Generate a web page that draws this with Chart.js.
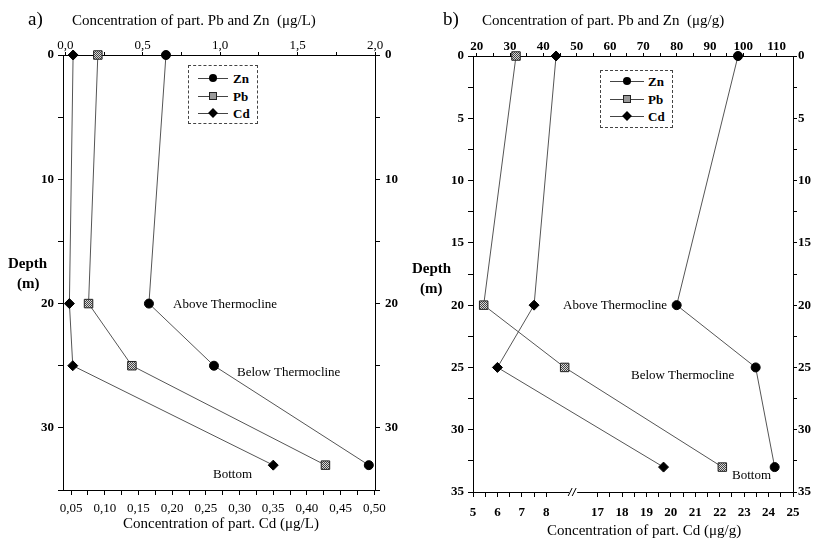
<!DOCTYPE html>
<html>
<head>
<meta charset="utf-8">
<script src="https://cdn.jsdelivr.net/npm/chart.js@4.4.1/dist/chart.umd.min.js"></script>
<style>
  body { margin: 0; background: #fff; }
  #wrap { position: relative; width: 819px; height: 539px; background: #fff; overflow: hidden;
          font-family: 'Liberation Serif', 'DejaVu Serif', serif; color: #000; }
  canvas { position: absolute; top: 0; }
  .txt { position: absolute; white-space: pre; line-height: 1; transform: translateY(-50%);
         font-family: 'Liberation Serif', 'DejaVu Serif', serif; }
  .legend { position: absolute; border: 1px dashed #444; background: #fff; }
  .legend .row { position: absolute; left: 0; right: 0; height: 0; }
  .legend .seg { position: absolute; border-top: 1px solid #444; }
  .legend .mk { position: absolute; box-sizing: border-box; transform: translate(-50%, -50%); }
  .legend .name { position: absolute; font-weight: bold; font-size: 13px; line-height: 1; transform: translateY(-50%); }
</style>
</head>
<body>
<div id="wrap">
  <canvas id="chartA" width="410" height="539" style="left:0"></canvas>
  <canvas id="chartB" width="409" height="539" style="left:410px"></canvas>
  <div id="legendA" class="legend" style="left:188px;top:65px;width:68px;height:57px"></div>
  <div id="legendB" class="legend" style="left:600px;top:70px;width:71px;height:56px"></div>
</div>
<script>
// series names
const seriesNames = ['Zn', 'Pb', 'Cd'];

// panel a: water (µg/L)
const depthA = [0, 20, 25, 33];
const znA = [0.65, 0.54, 0.96, 1.96];
const pbA = [0.21, 0.15, 0.43, 1.68];
const cdA = [0.053, 0.0475, 0.0525, 0.35];

// panel b: particles (µg/g)
const depthB = [0, 20, 25, 33];
const znB = [98.4, 80, 103.7, 109.4];
const pbB = [31.8, 22.1, 46.4, 93.7];
const cdB = [8.4, 7.5, 6.0, 19.7];

// tick labels
const depthLabelsA = [0, 10, 20, 30];
const topLabelsA = [0, 0.5, 1.0, 1.5, 2.0];
const bottomLabelsA = [0.05, 0.10, 0.15, 0.20, 0.25, 0.30, 0.35, 0.40, 0.45, 0.50];
const depthLabelsB = [0, 5, 10, 15, 20, 25, 30, 35];
const topLabelsB = [20, 30, 40, 50, 60, 70, 80, 90, 100, 110];
const bottomLabelsB = [5, 6, 7, 8, 17, 18, 19, 20, 21, 22, 23, 24, 25];

// broken Cd axis in panel b: 8 .. 17 squeezed into a short gap
const CD_SHIFT = 6.9;
const cdToAxis = v => v >= 12 ? v - CD_SHIFT : v;
const cdFromAxis = v => v >= 9.6 ? v + CD_SHIFT : v;

function range(a, b, step) {
  const out = [];
  const n = Math.round((b - a) / step);
  for (let i = 0; i <= n; i++) out.push(+(a + i * step).toFixed(6));
  return out;
}
const isIn = (list, v) => list.some(t => Math.abs(t - v) < 1e-6);

const serif = "'Liberation Serif', 'DejaVu Serif', serif";
const fontB = { family: serif, size: 13, weight: 'bold' };
const fontR = { family: serif, size: 13 };

function makeScale(o) {
  return {
    type: 'linear', position: o.position, min: o.min, max: o.max, reverse: !!o.reverse,
    afterBuildTicks: s => { s.ticks = o.ticks.map(v => ({ value: v })); },
    afterFit: s => {
      if (o.position === 'left' || o.position === 'right') s.width = o.size;
      else s.height = o.size;
      s.paddingLeft = s.paddingRight = s.paddingTop = s.paddingBottom = 0;
    },
    ticks: {
      color: '#000', font: o.font, padding: o.padding, autoSkip: false,
      maxRotation: 0, minRotation: 0, callback: o.label
    },
    grid: { drawOnChartArea: false, color: '#000', tickLength: o.tickLength || 5 },
    border: { color: '#000' }
  };
}

// grey checker fill for the Pb squares
const pat = document.createElement('canvas');
pat.width = 2; pat.height = 2;
const pc = pat.getContext('2d');
pc.fillStyle = '#d8d8d8'; pc.fillRect(0, 0, 2, 2);
pc.fillStyle = '#444'; pc.fillRect(0, 0, 1, 1); pc.fillRect(1, 1, 1, 1);
const pbFill = pc.createPattern(pat, 'repeat');

const styles = {
  Zn: { pointStyle: 'circle', pointRadius: 4.5, pointBackgroundColor: '#000', pointBorderColor: '#000', pointBorderWidth: 1 },
  Pb: { pointStyle: 'rect', pointRadius: 6, pointBackgroundColor: pbFill, pointBorderColor: '#222', pointBorderWidth: 1 },
  Cd: { pointStyle: 'rectRot', pointRadius: 5, pointBackgroundColor: '#000', pointBorderColor: '#000', pointBorderWidth: 1 }
};

function series(name, xs, depths, xAxisID) {
  return Object.assign({
    label: name, xAxisID, yAxisID: 'y', showLine: true,
    data: depths.map((d, i) => ({ x: xs[i], y: d })),
    borderColor: '#555', borderWidth: 1, fill: false, tension: 0, clip: false
  }, styles[name]);
}

const baseOptions = {
  responsive: false, animation: false, layout: { padding: 0 },
  plugins: { legend: { display: false }, tooltip: { enabled: false } }
};

// ---- panel a ----
new Chart(document.getElementById('chartA'), {
  type: 'scatter',
  data: {
    datasets: [
      series('Zn', znA, depthA, 'xTop'),
      series('Pb', pbA, depthA, 'xTop'),
      series('Cd', cdA, depthA, 'xBot')
    ]
  },
  options: Object.assign({}, baseOptions, {
    scales: {
      y: makeScale({ position: 'left', min: 0, max: 35, reverse: true, ticks: range(0, 35, 5),
        label: v => isIn(depthLabelsA, v) ? String(v) : '', size: 63, padding: 4, font: fontB }),
      yR: makeScale({ position: 'right', min: 0, max: 35, reverse: true, ticks: range(0, 35, 5),
        label: v => isIn(depthLabelsA, v) ? String(v) : '', size: 35, padding: 5, font: fontB }),
      xTop: makeScale({ position: 'top', min: -0.015, max: 2.0, ticks: range(0, 2, 0.25),
        label: v => isIn(topLabelsA, v) ? v.toFixed(1).replace('.', ',') : '', size: 55, padding: -1, font: fontR, tickLength: 3 }),
      xBot: makeScale({ position: 'bottom', min: 0.038, max: 0.501, ticks: range(0.05, 0.5, 0.025),
        label: v => isIn(bottomLabelsA, v) ? v.toFixed(2).replace('.', ',') : '', size: 49, padding: 6, font: fontR })
    }
  })
});

// ---- panel b ----
const axisBreak = {
  id: 'axisBreak',
  afterDraw(chart) {
    const s = chart.scales.xBot;
    const ctx = chart.ctx;
    const px = s.getPixelForValue(9.1);
    const y = s.top;
    ctx.save();
    ctx.fillStyle = '#fff';
    ctx.fillRect(px - 4, y - 2, 8, 4);
    ctx.strokeStyle = '#000';
    ctx.lineWidth = 1;
    ctx.beginPath();
    ctx.moveTo(px - 5, y + 4); ctx.lineTo(px - 1, y - 4);
    ctx.moveTo(px - 1, y + 4); ctx.lineTo(px + 3, y - 4);
    ctx.stroke();
    ctx.restore();
  }
};

new Chart(document.getElementById('chartB'), {
  type: 'scatter',
  data: {
    datasets: [
      series('Zn', znB, depthB, 'xTop'),
      series('Pb', pbB, depthB, 'xTop'),
      series('Cd', cdB.map(cdToAxis), depthB, 'xBot')
    ]
  },
  options: Object.assign({}, baseOptions, {
    scales: {
      y: makeScale({ position: 'left', min: 0, max: 35, reverse: true, ticks: range(0, 35, 2.5),
        label: v => isIn(depthLabelsB, v) ? String(v) : '', size: 63, padding: 4, font: fontB }),
      yR: makeScale({ position: 'right', min: 0, max: 35, reverse: true, ticks: range(0, 35, 2.5),
        label: v => isIn(depthLabelsB, v) ? String(v) : '', size: 26, padding: 1, font: fontB, tickLength: 4 }),
      xTop: makeScale({ position: 'top', min: 18.9, max: 114.9, ticks: range(20, 110, 5),
        label: v => isIn(topLabelsB, v) ? String(v) : '', size: 56, padding: -1, font: fontB, tickLength: 3 }),
      xBot: makeScale({ position: 'bottom', min: 5, max: cdToAxis(25),
        ticks: range(5, 8, 0.5).concat(range(17, 25, 0.5).map(cdToAxis)),
        label: v => { const r = +cdFromAxis(v).toFixed(3); return isIn(bottomLabelsB, r) ? String(Math.round(r)) : ''; },
        size: 47, padding: 8, font: fontB })
    }
  }),
  plugins: [axisBreak]
});

// ---- legends ----
function buildLegend(id, rows, segL, segR, textL) {
  const box = document.getElementById(id);
  seriesNames.forEach((name, i) => {
    const row = document.createElement('div');
    row.className = 'row';
    row.style.top = rows[i] + 'px';
    const seg = document.createElement('div');
    seg.className = 'seg';
    seg.style.left = segL + 'px'; seg.style.width = (segR - segL) + 'px';
    row.appendChild(seg);
    const mk = document.createElement('div');
    mk.className = 'mk';
    mk.style.left = ((segL + segR) / 2) + 'px';
    if (name === 'Zn') Object.assign(mk.style, { width: '8px', height: '8px', borderRadius: '50%', background: '#000' });
    if (name === 'Pb') Object.assign(mk.style, { width: '8px', height: '8px', background: '#999', border: '1px solid #222' });
    if (name === 'Cd') Object.assign(mk.style, { width: '7px', height: '7px', background: '#000', transform: 'translate(-50%, -50%) rotate(45deg)' });
    row.appendChild(mk);
    const t = document.createElement('div');
    t.className = 'name';
    t.style.left = textL + 'px';
    t.textContent = name;
    row.appendChild(t);
    box.appendChild(row);
  });
}
buildLegend('legendA', [12, 30, 47], 9, 39, 44);
buildLegend('legendB', [10, 28, 45], 9, 43, 47);

// ---- texts ----
const wrap = document.getElementById('wrap');
function addText(str, x, y, size, weight) {
  const d = document.createElement('div');
  d.className = 'txt';
  d.textContent = str;
  d.style.left = x + 'px';
  d.style.top = y + 'px';
  d.style.fontSize = size + 'px';
  if (weight) d.style.fontWeight = weight;
  wrap.appendChild(d);
}
addText('a)', 28, 18, 19);
addText('Concentration of part. Pb and Zn  (μg/L)', 72, 20, 15);
addText('Concentration of part. Cd (μg/L)', 123, 523, 15);
addText('Depth', 8, 263, 15, 'bold');
addText('(m)', 17, 283, 15, 'bold');
addText('Above Thermocline', 173, 303, 13);
addText('Below Thermocline', 237, 371, 13);
addText('Bottom', 213, 473, 13);

addText('b)', 443, 18, 19);
addText('Concentration of part. Pb and Zn  (μg/g)', 482, 20, 15);
addText('Concentration of part. Cd (μg/g)', 547, 530, 15);
addText('Depth', 412, 268, 15, 'bold');
addText('(m)', 420, 288, 15, 'bold');
addText('Above Thermocline', 563, 304, 13);
addText('Below Thermocline', 631, 374, 13);
addText('Bottom', 732, 474, 13);
</script>
</body>
</html>
